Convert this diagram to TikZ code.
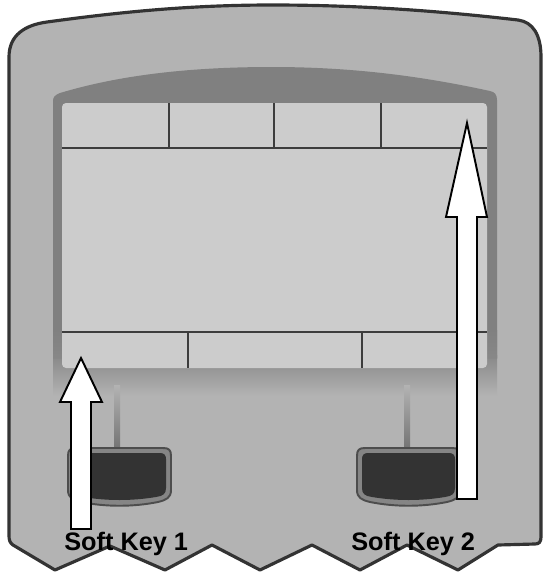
\documentclass[tikz,border=0pt]{standalone}
\usepackage{fontspec}
\setmainfont{Liberation Sans}
\definecolor{frameg}{HTML}{B3B3B3}
\definecolor{framed}{HTML}{333333}
\definecolor{bezg}{HTML}{808080}
\definecolor{scrg}{HTML}{CCCCCC}
\definecolor{lineg}{HTML}{3C3C3C}
\definecolor{keyedge}{HTML}{4D4D4D}
\definecolor{keyring}{HTML}{858585}
\definecolor{keyin}{HTML}{333333}
\begin{document}
\begin{tikzpicture}[x=0.02cm,y=-0.02cm,
  frameline/.style={fill=frameg,draw=framed,line width=1.8pt,line join=round},
  scrline/.style={draw=lineg,line width=0.9pt},
  blockarrow/.style={fill=white,draw=black,line width=1.1pt,line join=miter},
  keylabel/.style={font=\bfseries\fontsize{14.4}{16}\selectfont,inner sep=0pt,anchor=base west},
  softkey/.pic={
    \path[fill=keyring,draw=keyedge,line width=1.1pt]
      (0,8) .. controls (0,2) and (2,0) .. (8,0) -- (95,0)
      .. controls (101,0) and (103,2) .. (103,8) -- (103,42)
      .. controls (103,50) and (98,52) .. (90,54)
      .. controls (65,59) and (38,59) .. (13,54)
      .. controls (5,52) and (0,50) .. (0,42) -- cycle;
    \path[fill=keyin]
      (5,11) .. controls (5,7) and (7,5) .. (11,5) -- (92,5)
      .. controls (96,5) and (98,7) .. (98,11) -- (98,40)
      .. controls (98,46) and (95,48) .. (88,49)
      .. controls (64,53) and (39,53) .. (15,49)
      .. controls (8,48) and (5,46) .. (5,40) -- cycle;
  }]
\useasboundingbox (0,0) rectangle (545,575);
\fill[white] (0,0) rectangle (545,575);
% outer housing
\path[frameline]
  (9,536) -- (9,57) .. controls (9,35) and (25,25) .. (47,22)
  .. controls (120,12) and (190,5) .. (272,5)
  .. controls (360,5) and (440,11) .. (518,20)
  .. controls (533,22) and (541,35) .. (541,57)
  -- (541,537) .. controls (541,542) and (539,544) .. (535,544)
  -- (498,545) -- (458,570) -- (407,545) -- (360,570) -- (312,545)
  -- (260,570) -- (212,545) -- (165,570) -- (110,546) -- (55,570)
  -- (13,545) .. controls (10,543) and (9,540) .. (9,536) -- cycle;
% bezel
\shade[top color=bezg!85!frameg,bottom color=frameg] (53,355) rectangle (497,396);
\fill[bezg]
  (53,358) -- (53,101) .. controls (53,97) and (55,95) .. (60,93)
  .. controls (120,75) and (190,67) .. (272,67)
  .. controls (360,67) and (430,78) .. (490,91)
  .. controls (495,92) and (497,95) .. (497,100) -- (497,358) -- cycle;
\shade[top color=bezg,bottom color=bezg!85!frameg] (53,330) rectangle (497,358);
% screen
\fill[scrg,rounded corners=0.08cm] (62,103) rectangle (487,368);
\draw[scrline] (62,148) -- (487,148);
\draw[scrline] (169,103) -- (169,148);
\draw[scrline] (274,103) -- (274,148);
\draw[scrline] (381,103) -- (381,148);
\draw[scrline] (62,332) -- (487,332);
\draw[scrline] (188,332) -- (188,368);
\draw[scrline] (362,332) -- (362,368);
% stems
\shade[top color=frameg,bottom color=bezg!90!black] (114,385) rectangle (120,449);
\shade[top color=frameg,bottom color=bezg!90!black] (404,385) rectangle (410,449);
% keys
\pic at (68,448) {softkey};
\pic at (357,448) {softkey};
% arrows
\path[blockarrow] (71,529) -- (71,402) -- (60,402) -- (81,358) -- (102,402) -- (91,402) -- (91,529) -- cycle;
\path[blockarrow] (457,499) -- (457,217) -- (446,217) -- (467,123) -- (487,217) -- (477,217) -- (477,499) -- cycle;
% labels
\node[keylabel] (k1) at (64,550) {Soft Key 1};
\node[keylabel] (k2) at (351,550) {Soft Key 2};
\end{tikzpicture}
\end{document}
